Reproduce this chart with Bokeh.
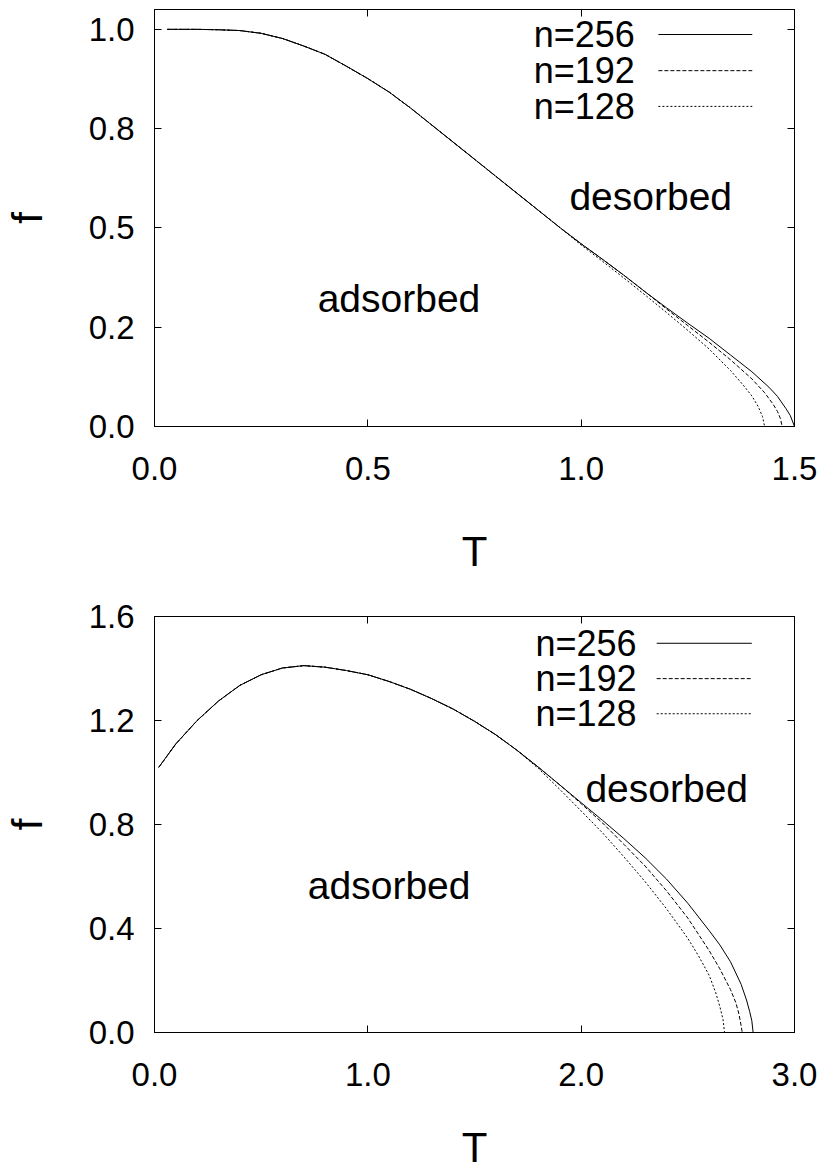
from bokeh.plotting import figure
from bokeh.models import Range1d, FixedTicker, LinearAxis, Label, Arrow
from bokeh.layouts import column
from bokeh.embed import file_html
from bokeh.resources import INLINE

# ---------------- data ----------------
series_names = ["n=256", "n=192", "n=128"]
series_dash = ["solid", "4 2", "2 2"]

# upper panel
top_T_256 = [0.03, 0.10, 0.15, 0.20, 0.25, 0.30, 0.35, 0.40, 0.45, 0.50, 0.55, 0.60, 0.65, 0.70,
             0.75, 0.80, 0.85, 0.90, 0.95, 1.00, 1.05, 1.10, 1.15, 1.20, 1.25, 1.30, 1.35, 1.40,
             1.44, 1.46, 1.48, 1.49, 1.50]
top_f_256 = [1.000, 1.000, 0.999, 0.997, 0.990, 0.977, 0.958, 0.937, 0.907, 0.876, 0.842, 0.802,
             0.759, 0.716, 0.673, 0.630, 0.587, 0.544, 0.501, 0.460, 0.421, 0.381, 0.339, 0.299,
             0.260, 0.222, 0.180, 0.138, 0.099, 0.076, 0.045, 0.028, 0.000]
top_T_192 = [0.03, 0.10, 0.15, 0.20, 0.25, 0.30, 0.35, 0.40, 0.45, 0.50, 0.55, 0.60, 0.65, 0.70,
             0.75, 0.80, 0.85, 0.90, 0.95, 1.00, 1.05, 1.10, 1.15, 1.20, 1.25, 1.30, 1.35, 1.40,
             1.43, 1.45, 1.46, 1.467, 1.471]
top_f_192 = [1.000, 1.000, 0.999, 0.997, 0.990, 0.977, 0.958, 0.937, 0.907, 0.876, 0.842, 0.802,
             0.759, 0.716, 0.673, 0.630, 0.587, 0.544, 0.501, 0.460, 0.421, 0.381, 0.339, 0.296,
             0.254, 0.212, 0.168, 0.120, 0.085, 0.056, 0.038, 0.020, 0.000]
top_T_128 = [0.03, 0.10, 0.15, 0.20, 0.25, 0.30, 0.35, 0.40, 0.45, 0.50, 0.55, 0.60, 0.65, 0.70,
             0.75, 0.80, 0.85, 0.90, 0.95, 1.00, 1.05, 1.10, 1.15, 1.20, 1.25, 1.30, 1.35, 1.38,
             1.40, 1.415, 1.425, 1.43]
top_f_128 = [1.000, 1.000, 0.999, 0.997, 0.990, 0.977, 0.958, 0.937, 0.907, 0.876, 0.842, 0.802,
             0.759, 0.716, 0.673, 0.630, 0.587, 0.544, 0.501, 0.457, 0.416, 0.374, 0.331, 0.287,
             0.242, 0.195, 0.141, 0.104, 0.077, 0.050, 0.025, 0.000]

top_xticks = [0.0, 0.5, 1.0, 1.5]
top_xlabels = ["0.0", "0.5", "1.0", "1.5"]
top_yticks = [0.0, 0.25, 0.5, 0.75, 1.0]
top_ylabels = ["0.0", "0.2", "0.5", "0.8", "1.0"]

# lower panel
bot_T_256 = [0.02, 0.10, 0.20, 0.30, 0.40, 0.50, 0.60, 0.70, 0.80, 0.90, 1.00, 1.10, 1.20, 1.30,
             1.40, 1.50, 1.60, 1.70, 1.80, 1.90, 2.00, 2.10, 2.20, 2.30, 2.40, 2.50, 2.60, 2.65,
             2.70, 2.75, 2.775, 2.79, 2.80, 2.806]
bot_f_256 = [1.020, 1.110, 1.200, 1.275, 1.335, 1.376, 1.402, 1.411, 1.405, 1.392, 1.376, 1.350,
             1.320, 1.284, 1.244, 1.197, 1.145, 1.085, 1.020, 0.952, 0.884, 0.816, 0.746, 0.672,
             0.590, 0.497, 0.392, 0.337, 0.272, 0.185, 0.125, 0.080, 0.045, 0.000]
bot_T_192 = [0.02, 0.10, 0.20, 0.30, 0.40, 0.50, 0.60, 0.70, 0.80, 0.90, 1.00, 1.10, 1.20, 1.30,
             1.40, 1.50, 1.60, 1.70, 1.80, 1.90, 2.00, 2.10, 2.20, 2.30, 2.40, 2.50, 2.60, 2.65,
             2.70, 2.725, 2.74, 2.75, 2.755]
bot_f_192 = [1.020, 1.110, 1.200, 1.275, 1.335, 1.376, 1.402, 1.411, 1.405, 1.392, 1.376, 1.350,
             1.320, 1.284, 1.244, 1.197, 1.145, 1.085, 1.020, 0.952, 0.880, 0.806, 0.724, 0.640,
             0.545, 0.440, 0.315, 0.245, 0.165, 0.115, 0.070, 0.025, 0.000]
bot_T_128 = [0.02, 0.10, 0.20, 0.30, 0.40, 0.50, 0.60, 0.70, 0.80, 0.90, 1.00, 1.10, 1.20, 1.30,
             1.40, 1.50, 1.60, 1.70, 1.80, 1.90, 2.00, 2.10, 2.20, 2.30, 2.40, 2.50, 2.55, 2.60,
             2.63, 2.65, 2.665, 2.672]
bot_f_128 = [1.020, 1.110, 1.200, 1.275, 1.335, 1.376, 1.402, 1.411, 1.405, 1.392, 1.376, 1.350,
             1.320, 1.284, 1.244, 1.197, 1.145, 1.085, 1.015, 0.935, 0.852, 0.768, 0.676, 0.580,
             0.476, 0.362, 0.295, 0.220, 0.155, 0.100, 0.050, 0.000]

bot_xticks = [0.0, 1.0, 2.0, 3.0]
bot_xlabels = ["0.0", "1.0", "2.0", "3.0"]
bot_yticks = [0.0, 0.4, 0.8, 1.2, 1.6]
bot_ylabels = ["0.0", "0.4", "0.8", "1.2", "1.6"]

x_title = "T"
y_title = "f"
region_labels = ["desorbed", "adsorbed"]

FONT = "Liberation Sans"
TICK_SIZE = "33px"
LEGEND_SIZE = "36px"
REGION_SIZE = "39px"
TITLE_SIZE = "42px"


def style_axis(ax, ticks, labels):
    ax.ticker = FixedTicker(ticks=ticks)
    ax.major_label_overrides = dict(zip(ticks, labels))
    ax.major_tick_in = 7
    ax.major_tick_out = 0
    ax.minor_tick_line_color = None
    ax.axis_line_color = "black"
    ax.major_tick_line_color = "black"
    ax.major_label_text_font = FONT
    ax.major_label_text_font_size = TICK_SIZE
    ax.major_label_text_color = "black"
    ax.axis_label_text_font = FONT
    ax.axis_label_text_font_size = TITLE_SIZE
    ax.axis_label_text_font_style = "normal"
    ax.axis_label_text_color = "black"


def mirror_axis(ticks):
    return LinearAxis(ticker=FixedTicker(ticks=ticks), major_tick_in=7, major_tick_out=0,
                      minor_tick_line_color=None, axis_line_color="black",
                      major_tick_line_color="black", major_label_text_color=None,
                      major_label_text_font_size="0px", major_label_standoff=0)


def make_panel(height, border_top, border_bottom, title_standoff, x_end, y_end,
               xticks, xlabels, yticks, ylabels,
               curves, legend_x_text, legend_x0, legend_x1, legend_rows, regions):
    p = figure(width=820, height=height, x_range=Range1d(0, x_end), y_range=Range1d(0, y_end),
               output_backend="svg", toolbar_location=None,
               min_border_left=153, min_border_right=26,
               min_border_top=border_top, min_border_bottom=border_bottom,
               x_axis_label=x_title, y_axis_label=y_title)
    p.xgrid.visible = False
    p.ygrid.visible = False
    p.outline_line_color = "black"
    p.outline_line_alpha = 1.0
    p.background_fill_color = "white"
    p.border_fill_color = "white"

    style_axis(p.xaxis[0], xticks, xlabels)
    style_axis(p.yaxis[0], yticks, ylabels)
    p.xaxis[0].major_label_standoff = 30
    p.xaxis[0].axis_label_standoff = title_standoff
    p.yaxis[0].major_label_standoff = 20
    p.yaxis[0].axis_label_standoff = 35
    p.add_layout(mirror_axis(yticks), "right")
    p.add_layout(mirror_axis(xticks), "above")

    for (T, f), dash in zip(curves, series_dash):
        p.line(T, f, line_color="black", line_width=1, line_dash=dash)

    for name, dash, row in zip(series_names, series_dash, legend_rows):
        p.add_layout(Label(x=legend_x_text, y=row, text=name, text_align="right",
                           text_baseline="middle", text_font=FONT,
                           text_font_size=LEGEND_SIZE, text_color="black"))
        p.add_layout(Arrow(x_start=legend_x0, y_start=row, x_end=legend_x1, y_end=row,
                           start=None, end=None, line_color="black", line_width=1,
                           line_dash=dash))

    for text, (x, y) in zip(region_labels, regions):
        p.add_layout(Label(x=x, y=y, text=text, text_align="center", text_baseline="middle",
                           text_font=FONT, text_font_size=REGION_SIZE, text_color="black"))
    return p


p1 = make_panel(585, 9, 159, 45, 1.5, 1.05, top_xticks, top_xlabels, top_yticks, top_ylabels,
                [(top_T_256, top_f_256), (top_T_192, top_f_192), (top_T_128, top_f_128)],
                1.1256, 1.181, 1.401, [0.987, 0.896, 0.806],
                [(1.163, 0.579), (0.573, 0.322)])

p2 = make_panel(589, 31, 142, 35, 3.0, 1.6, bot_xticks, bot_xlabels, bot_yticks, bot_ylabels,
                [(bot_T_256, bot_f_256), (bot_T_192, bot_f_192), (bot_T_128, bot_f_128)],
                2.26, 2.354, 2.80, [1.497, 1.361, 1.226],
                [(2.401, 0.938), (1.10, 0.565)])

layout = column(p1, p2, spacing=0)

with open("out.html", "w") as fh:
    fh.write(file_html(layout, INLINE, title="adsorption phase diagram"))
